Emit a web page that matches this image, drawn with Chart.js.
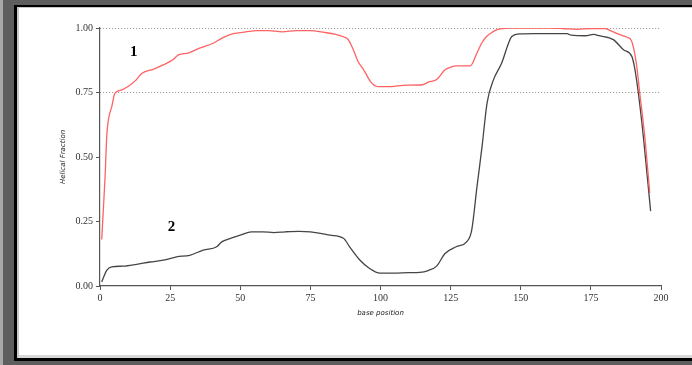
<!DOCTYPE html>
<html>
<head>
<meta charset="utf-8">
<script src="https://cdn.jsdelivr.net/npm/chart.js@4/dist/chart.umd.min.js"></script>
<style>
  html, body { margin: 0; padding: 0; }
  body { width: 692px; height: 365px; overflow: hidden; position: relative; background: #5e5e5e; }
  #edge { position: absolute; left: 0; top: 0; width: 3px; height: 365px; background: #a8a8a8; }
  #panel {
    position: absolute; left: 14px; top: 5px; width: 690px; height: 351px;
    background: #fff; border-left: 3px solid #000; border-top: 2px solid #000; border-bottom: 3px solid #000;
    box-shadow: inset 2px 1px 0 #c8c8c8, inset 0 -3px 0 #d8d8d8;
  }
  #wrap { position: absolute; left: 0; top: 0; width: 692px; height: 365px; }
</style>
</head>
<body>
<div id="edge"></div>
<div id="panel"></div>
<div id="wrap"><canvas id="c" width="692" height="365"></canvas></div>
<script>
// Helical fraction along the sequence, two constructs
const pos1 = [0.6, 1.8, 2.4, 3, 4.2, 5.3, 7.7, 10, 13, 15, 19, 22.5, 26, 28, 31.5, 35.5, 40.5, 43.5, 47.5, 52, 56, 60, 65, 70, 75, 80, 84, 87, 88.5, 90.3, 92, 94, 96.6, 99, 104, 108, 115, 117, 120, 123, 125, 127, 132, 134.4, 136, 137.8, 140, 141.4, 144, 146, 150, 160, 165, 170, 175, 180, 182, 184, 187.7, 189.5, 191.2, 192.4, 194.2, 196];
const helix1 = [0.18, 0.42, 0.58, 0.645, 0.695, 0.747, 0.76, 0.773, 0.80, 0.825, 0.84, 0.857, 0.877, 0.896, 0.903, 0.922, 0.942, 0.961, 0.978, 0.985, 0.99, 0.99, 0.985, 0.99, 0.99, 0.983, 0.975, 0.965, 0.955, 0.916, 0.87, 0.838, 0.79, 0.773, 0.773, 0.778, 0.78, 0.79, 0.80, 0.838, 0.848, 0.853, 0.853, 0.903, 0.94, 0.967, 0.985, 0.993, 0.998, 1.0, 1.0, 1.0, 0.998, 0.995, 0.998, 0.998, 0.99, 0.98, 0.965, 0.95, 0.864, 0.75, 0.58, 0.36];

const pos2 = [0.6, 2.4, 4.2, 8.3, 13, 17.8, 22.6, 27.3, 32, 36.8, 41.6, 43.4, 46.3, 50, 54, 58, 62, 66, 71, 75, 79, 82, 86.8, 89, 92.7, 96, 99.8, 105, 110, 114, 117, 120, 123, 127, 130.7, 132.5, 134.4, 136.2, 138, 140.3, 143.2, 145.6, 146.8, 149.7, 155, 160, 166.5, 168, 173, 176, 178, 183, 186.6, 189.6, 190.7, 191.9, 193.7, 196.3];
const helix2 = [0.016, 0.061, 0.074, 0.077, 0.084, 0.093, 0.10, 0.113, 0.119, 0.139, 0.152, 0.171, 0.184, 0.197, 0.21, 0.21, 0.207, 0.21, 0.212, 0.21, 0.203, 0.197, 0.185, 0.152, 0.10, 0.069, 0.05, 0.05, 0.052, 0.053, 0.06, 0.077, 0.126, 0.152, 0.171, 0.216, 0.385, 0.54, 0.71, 0.80, 0.864, 0.94, 0.967, 0.977, 0.978, 0.978, 0.978, 0.972, 0.97, 0.975, 0.97, 0.955, 0.916, 0.89, 0.84, 0.75, 0.58, 0.29];

const seriesNames = ['1', '2'];
const yTicks = [0, 0.25, 0.5, 0.75, 1];
const xTicks = [0, 25, 50, 75, 100, 125, 150, 175, 200];

// where each series number is written, in data units
const nameAnchors = [{ x: 12, y: 0.905 }, { x: 25.5, y: 0.228 }];

const toPoints = (xs, ys) => xs.map((x, i) => ({ x, y: ys[i] }));

const seriesNumbers = {
  id: 'seriesNumbers',
  afterDatasetsDraw(chart) {
    const { ctx, scales: { x, y } } = chart;
    ctx.save();
    ctx.font = 'bold 15px "Liberation Serif", serif';
    ctx.fillStyle = '#000';
    ctx.textAlign = 'center';
    ctx.textBaseline = 'middle';
    seriesNames.forEach((n, i) => {
      ctx.fillText(n, x.getPixelForValue(nameAnchors[i].x), y.getPixelForValue(nameAnchors[i].y));
    });
    ctx.restore();
  }
};

const tickFont = { family: '"Liberation Serif", serif', size: 10 };
const titleFont = { family: '"DejaVu Sans", sans-serif', size: 7, style: 'italic' };

new Chart(document.getElementById('c'), {
  type: 'line',
  data: {
    datasets: [
      { label: seriesNames[0], data: toPoints(pos1, helix1), borderColor: '#ff6262', borderWidth: 1.3, pointRadius: 0, cubicInterpolationMode: 'monotone', fill: false },
      { label: seriesNames[1], data: toPoints(pos2, helix2), borderColor: '#454545', borderWidth: 1.3, pointRadius: 0, cubicInterpolationMode: 'monotone', fill: false }
    ]
  },
  options: {
    responsive: false,
    animation: false,
    layout: { padding: { left: 0, right: 31, top: 28, bottom: 0 } },
    plugins: { legend: { display: false }, tooltip: { enabled: false } },
    scales: {
      x: {
        type: 'linear', min: 0, max: 200,
        afterBuildTicks: s => { s.ticks = xTicks.map(v => ({ value: v })); },
        afterFit: s => { s.height = 79; },
        ticks: { font: tickFont, color: '#333', padding: 2, maxRotation: 0, callback: v => String(v) },
        grid: { drawOnChartArea: false, drawTicks: true, tickLength: 4, tickColor: '#555', tickWidth: 1 },
        border: { color: '#555', width: 1.2 },
        title: { display: true, text: 'base position', font: titleFont, color: '#222', padding: { top: 0, bottom: 48 } }
      },
      y: {
        min: 0, max: 1,
        afterBuildTicks: s => { s.ticks = yTicks.map(v => ({ value: v })); },
        afterFit: s => { s.width = 100; },
        ticks: { font: tickFont, color: '#333', padding: 3, callback: v => Number(v).toFixed(2) },
        grid: {
          drawTicks: true, tickLength: 4, tickColor: '#555', tickWidth: 1,
          color: c => (c.tick && c.tick.value >= 0.75) ? '#8a8a8a' : 'rgba(0,0,0,0)',
          lineWidth: 1
        },
        border: { color: '#555', width: 1.2, dash: [1, 2] },
        title: { display: true, text: 'Helical Fraction', font: titleFont, color: '#222', padding: { top: 59, bottom: 0 } }
      }
    }
  },
  plugins: [seriesNumbers]
});
</script>
</body>
</html>
